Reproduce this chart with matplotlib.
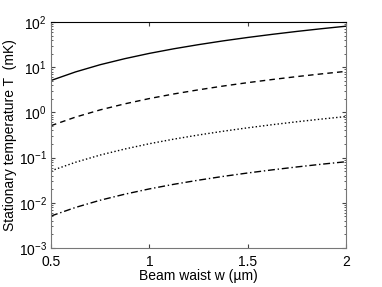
import matplotlib
matplotlib.use("Agg")
import matplotlib.pyplot as plt

plt.rcParams['font.family'] = ['Liberation Sans', 'DejaVu Sans']

# beam waist (um) and stationary temperature (mK)
w = [0.5, 0.625, 0.75, 0.875, 1.0, 1.125, 1.25, 1.375, 1.5, 1.625, 1.75, 1.875, 2.0]
T_solid = [5.1, 7.9, 11.4, 15.5, 20.3, 25.7, 31.7, 38.4, 45.7, 53.6, 62.2, 71.4, 81.2]
T_dashed = [0.51, 0.79, 1.14, 1.55, 2.03, 2.57, 3.17, 3.84, 4.57, 5.36, 6.22, 7.14, 8.12]
T_dotted = [0.051, 0.079, 0.114, 0.155, 0.203, 0.257, 0.317, 0.384, 0.457, 0.536, 0.622, 0.714, 0.812]
T_dashdot = [0.0051, 0.0079, 0.0114, 0.0155, 0.0203, 0.0257, 0.0317, 0.0384, 0.0457, 0.0536, 0.0622, 0.0714, 0.0812]

xticks = [0.5, 1, 1.5, 2]
xticklabels = ['0.5', '1', '1.5', '2']

fig = plt.figure(figsize=(3.82, 2.87), dpi=100)
ax = fig.add_axes([0.1335, 0.136, 0.7725, 0.787])

ax.plot(w, T_solid, 'k-', lw=1.0)
ax.plot(w, T_dashed, 'k--', lw=1.0, dashes=(4, 3))
ax.plot(w, T_dotted, 'k:', lw=1.0)
ax.plot(w, T_dashdot, 'k-.', lw=1.0, dashes=(5, 2, 1, 2))

ax.set_yscale('log')
ax.set_xlim(0.5, 2)
ax.set_ylim(1e-3, 1e2)
ax.set_xticks(xticks)
ax.set_xticklabels(xticklabels)

ax.tick_params(direction='in', top=True, right=True, which='both', labelsize=10, colors='#444444', labelcolor='black')
ax.tick_params(which='major', length=3)
ax.tick_params(which='minor', length=1.5)
ax.tick_params(axis='x', pad=5)
ax.tick_params(axis='y', pad=3)
for s in ['bottom', 'left', 'right']:
    ax.spines[s].set_color('#777777')
ax.spines['top'].set_color('black')

ax.set_xlabel('Beam waist w (\u00b5m)', fontsize=10, labelpad=0)
ax.set_ylabel('Stationary temperature T  (mK)', fontsize=10, labelpad=1)

fig.savefig('out.png', dpi=100)
